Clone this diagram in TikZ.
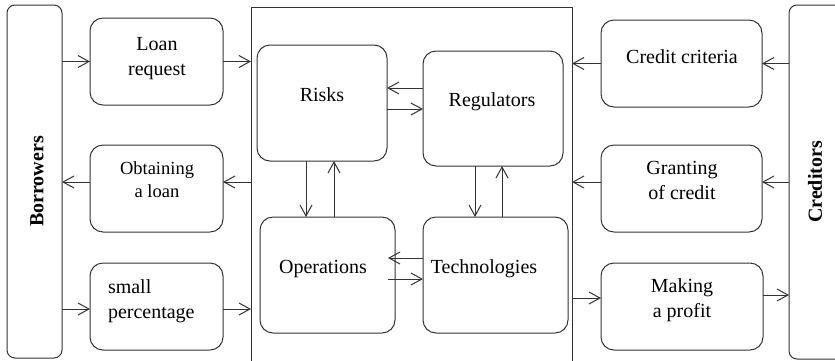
\documentclass[tikz,border=0pt]{standalone}
\usepackage{fontspec}
\setmainfont{Liberation Serif}
\newfontfamily\tnr{Liberation Serif}
\usetikzlibrary{arrows.meta,calc}
\begin{document}
\begin{tikzpicture}[x=1pt,y=-1pt,line width=1pt,
  every node/.style={outer sep=0pt},
  box/.style={draw=black!80, rounded corners=13pt, inner sep=0pt},
  side/.style={draw=black!80, rounded corners=8pt, inner sep=0pt},
  txt/.style={font=\tnr\fontsize{20}{25}\selectfont, align=center, inner sep=0pt},
  arr/.style={draw=black!80, -{Straight Barb[length=11pt,width=12pt]}}]
\path[use as bounding box, clip] (0,0) rectangle (835,360);

% side boxes
\node[side, minimum width=55pt, minimum height=353pt] (borrow) at (34.5,181.5) {};
\node[txt, rotate=90, font=\tnr\fontsize{20}{25}\selectfont\bfseries] (borrowt) at (37,181.5) {Borrowers};
\node[side, minimum width=70pt, minimum height=354pt] (cred) at (824,182) {};
\node[txt, rotate=90, font=\tnr\fontsize{20}{25}\selectfont\bfseries] (credt) at (815,182) {Creditors};

% middle frame
\node[draw=black!80, inner sep=0pt, minimum width=321pt, minimum height=373pt] (mid) at (411.5,193.5) {};

% left column
\node[box, minimum width=133pt, minimum height=87pt] (loan) at (156.5,61.5) {};
\node[txt] (loant) at (157,58.5) {Loan\\request};
\node[box, minimum width=133pt, minimum height=87pt] (obtain) at (156.5,188.5) {};
\node[txt, font=\tnr\fontsize{18.5}{23}\selectfont] (obtaint) at (157,180) {Obtaining\\a loan};
\node[box, minimum width=133pt, minimum height=87pt] (small) at (156.5,306.5) {};
\node[txt, align=left, anchor=west] (smallt) at (108,301) {small\\percentage};

% inner boxes
\node[box, minimum width=130pt, minimum height=116pt] (risk) at (322,103) {};
\node[txt] (riskt) at (322,95) {Risks};
\node[box, minimum width=140pt, minimum height=115pt] (reg) at (493,108.5) {};
\node[txt] (regt) at (492,102) {Regulators};
\node[box, minimum width=135pt, minimum height=116pt] (ops) at (327.5,275) {};
\node[txt] (opst) at (323,268.5) {Operations};
\node[box, minimum width=145pt, minimum height=116pt] (tech) at (495.5,275) {};
\node[txt] (techt) at (484,268.5) {Technologies};

% right column
\node[box, minimum width=161pt, minimum height=87pt] (crit) at (681.5,63.5) {};
\node[txt] (critt) at (682,56.5) {Credit criteria};
\node[box, minimum width=161pt, minimum height=87pt] (grant) at (681.5,188.5) {};
\node[txt] (grantt) at (682,180) {Granting\\of credit};
\node[box, minimum width=162pt, minimum height=87pt] (make) at (682,306.5) {};
\node[txt] (maket) at (682,300) {Making\\a profit};

% left arrows
\draw[arr] (borrow.east |- loan.west) -- (loan.west);
\draw[arr] (loan.east) -- (mid.west |- loan.east);
\coordinate (o1) at ($(obtain.east)+(0,-6.5)$);
\coordinate (o2) at ($(obtain.west)+(0,-6.5)$);
\draw[arr] (mid.west |- o1) -- (o1);
\draw[arr] (o2) -- (borrow.east |- o2);
\coordinate (s1) at ($(small.west)+(0,2.5)$);
\coordinate (s2) at ($(small.east)+(0,2.5)$);
\draw[arr] (borrow.east |- s1) -- (s1);
\draw[arr] (s2) -- (mid.west |- s2);

% inner arrows
\coordinate (r1) at ($(reg.west)+(0,-20.5)$);
\coordinate (r2) at ($(reg.west)+(0,0.5)$);
\draw[arr] (r1) -- (risk.east |- r1);
\draw[arr] (risk.east |- r2) -- (r2);
\coordinate (v1) at ($(risk.south)+(-16,0)$);
\coordinate (v2) at ($(risk.south)+(12,0)$);
\draw[arr] (v1) -- (ops.north -| v1);
\draw[arr] (ops.north -| v2) -- (v2);
\coordinate (w1) at ($(reg.south)+(-18,0)$);
\coordinate (w2) at ($(reg.south)+(9,0)$);
\draw[arr] (w1) -- (tech.north -| w1);
\draw[arr] (tech.north -| w2) -- (w2);
\coordinate (t1) at ($(tech.west)+(0,-17)$);
\coordinate (t2) at ($(tech.west)+(0,4)$);
\coordinate (e1) at ($(ops.east)+(-7,-17)$);
\coordinate (e2) at ($(ops.east)+(-7,4)$);
\draw[arr] (t1) -- (e1);
\draw[arr] (e2) -- (t2);

% right arrows
\draw[arr] (cred.west |- crit.east) -- (crit.east);
\draw[arr] (crit.west) -- (mid.east |- crit.west);
\coordinate (g1) at ($(grant.east)+(0,-6.5)$);
\coordinate (g2) at ($(grant.west)+(0,-6.5)$);
\draw[arr] (cred.west |- g1) -- (g1);
\draw[arr] (g2) -- (mid.east |- g2);
\coordinate (m1) at ($(make.west)+(0,-8.5)$);
\coordinate (m2) at ($(make.east)+(0,-11.5)$);
\draw[arr] (mid.east |- m1) -- (m1);
\draw[arr] (m2) -- (cred.west |- m2);
\end{tikzpicture}
\end{document}
